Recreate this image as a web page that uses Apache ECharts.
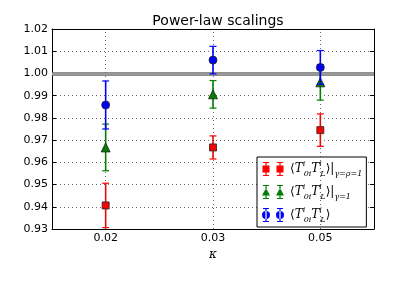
<!DOCTYPE html>
<html><head><meta charset="utf-8">
<script src="https://cdn.jsdelivr.net/npm/echarts@6/dist/echarts.min.js"></script>
<style>html,body{margin:0;padding:0;background:#fff}#c{width:415px;height:287px}</style>
</head><body><div id="c"></div>
<script>
const categories = ['0.02', '0.03', '0.05'];
const seriesNames = ['gammaRho', 'gamma', 'full'];
const redValues = [0.9406, 0.9667, 0.9745];
const redErrors = [0.0100, 0.0052, 0.0073];
const greenValues = [0.9667, 0.9906, 0.9960];
const greenErrors = [0.0105, 0.0062, 0.0080];
const blueValues = [0.9858, 1.0060, 1.0027];
const blueErrors = [0.0108, 0.0062, 0.0076];
const yMin = 0.93, yMax = 1.02, yStep = 0.01;
const refLine = 1.00;

const colors = ['#ff0000', '#007f00', '#0000ff'];
const symbols = ['rect', 'triangle', 'circle'];
const symbolSizes = [7, 9, 8];
const allValues = [redValues, greenValues, blueValues];
const allErrors = [redErrors, greenErrors, blueErrors];

const labelFor = {
  gammaRho: '{b|⟨}{it|T}{sup|i}{sub|0i}{it|T}{sup|i}{sub|L}{b|⟩|}{sub2|γ=ρ=1}',
  gamma: '{b|⟨}{it|T}{sup|i}{sub|0i}{it|T}{sup|i}{sub|L}{b|⟩|}{sub2|γ=1}',
  full: '{b|⟨}{it|T}{sup|i}{sub|0i}{it|T}{sup|i}{sub|L}{b|⟩}'
};

function glyphPath(kind) {
  // 24 x 14 box, two glyphs at x=5 and x=19
  let p = '';
  [5, 19].forEach(c => {
    p += `M${c-0.6} 0.5 L${c+0.6} 0.5 L${c+0.6} 13.5 L${c-0.6} 13.5 Z `;
    p += `M${c-3} 0 L${c+3} 0 L${c+3} 1 L${c-3} 1 Z `;
    p += `M${c-3} 13 L${c+3} 13 L${c+3} 14 L${c-3} 14 Z `;
    if (kind === 'rect') p += `M${c-3.5} 3.5 L${c+3.5} 3.5 L${c+3.5} 10.5 L${c-3.5} 10.5 Z `;
    else if (kind === 'triangle') p += `M${c} 3 L${c+4} 10.5 L${c-4} 10.5 Z `;
    else p += `M${c-4} 7 A4 4 0 1 0 ${c+4} 7 A4 4 0 1 0 ${c-4} 7 Z `;
  });
  p += 'M0 0 L0.01 0 Z M24 14 L23.99 14 Z';
  return 'path://' + p;
}

function errRender(color) {
  return function (params, api) {
    const x = api.value(0);
    const lo = api.coord([x, api.value(1)]);
    const hi = api.coord([x, api.value(2)]);
    const w = 3.5;
    return {
      type: 'group',
      children: [
        { type: 'line', shape: { x1: lo[0], y1: lo[1], x2: hi[0], y2: hi[1] }, style: { stroke: color, lineWidth: 1.6 } },
        { type: 'line', shape: { x1: hi[0] - w, y1: hi[1], x2: hi[0] + w, y2: hi[1] }, style: { stroke: color, lineWidth: 1.2 } },
        { type: 'line', shape: { x1: lo[0] - w, y1: lo[1], x2: lo[0] + w, y2: lo[1] }, style: { stroke: color, lineWidth: 1.2 } }
      ]
    };
  };
}

const series = [];
// reference lines (gridlines + gray band)
series.push({
  type: 'scatter', data: [], silent: true, z: 1,
  markLine: {
    silent: true, symbol: 'none', label: { show: false },
    data: categories.map(c => ({ xAxis: c, lineStyle: { color: '#444', type: [1, 3], width: 0.8 } }))
      .concat([
        { yAxis: refLine, lineStyle: { color: '#6a6a6a', type: 'solid', width: 3.6 } },
        { yAxis: refLine, lineStyle: { color: '#a8a8a8', type: 'solid', width: 1.6 } }
      ])
  }
});
for (let s = 0; s < 3; s++) {
  series.push({
    type: 'custom', name: seriesNames[s] + '_err', clip: true, z: 3 + s * 2,
    renderItem: errRender(colors[s]),
    data: allValues[s].map((v, i) => [i, v - allErrors[s][i], v + allErrors[s][i]])
  });
  series.push({
    type: 'scatter', name: seriesNames[s], z: 4 + s * 2,
    symbol: symbols[s], symbolSize: symbolSizes[s],
    itemStyle: { color: colors[s], borderColor: '#222', borderWidth: 0.8, opacity: 1 },
    data: allValues[s].map((v, i) => [i, v])
  });
}

const baseRich = {
  b: { fontFamily: 'DejaVu Serif', fontSize: 12, color: '#000', lineHeight: 18 },
  it: { fontFamily: 'DejaVu Serif', fontStyle: 'italic', fontSize: 12, color: '#000', lineHeight: 18 },
  sup: { fontFamily: 'DejaVu Serif', fontStyle: 'italic', fontSize: 8, color: '#000', lineHeight: 18, verticalAlign: 'top', width: 1 },
  sub: { fontFamily: 'DejaVu Serif', fontStyle: 'italic', fontSize: 8, color: '#000', lineHeight: 18, verticalAlign: 'bottom' },
  sub2: { fontFamily: 'DejaVu Serif', fontStyle: 'italic', fontSize: 8, color: '#000', lineHeight: 18, verticalAlign: 'bottom' }
};

const option = {
  animation: false,
  backgroundColor: '#fff',
  title: {
    text: 'Power-law scalings', left: 213, textAlign: 'center', top: 9,
    textStyle: { fontFamily: 'DejaVu Sans', fontSize: 14, fontWeight: 'normal', color: '#000' }
  },
  grid: { left: 52, right: 41, top: 29, bottom: 58 },
  legend: {
    orient: 'vertical', left: 257, top: 157, width: 112,
    padding: [3, 4, 3, 4], itemGap: 5, itemWidth: 24, itemHeight: 14,
    backgroundColor: '#fff', borderColor: '#000', borderWidth: 1, borderRadius: 0,
    data: seriesNames.map((n, i) => ({ name: n, icon: glyphPath(symbols[i]), itemStyle: { color: colors[i], borderWidth: 0 } })),
    formatter: n => labelFor[n],
    textStyle: { rich: baseRich }
  },
  xAxis: [{
    type: 'category', data: categories, boundaryGap: true,
    name: 'κ', nameLocation: 'middle', nameGap: 18,
    nameTextStyle: { fontFamily: 'DejaVu Serif', fontStyle: 'italic', fontSize: 12, color: '#000' },
    axisLine: { lineStyle: { color: '#000', width: 1 } },
    axisTick: { inside: true, alignWithLabel: true, length: 4, lineStyle: { color: '#000' } },
    axisLabel: { fontFamily: 'DejaVu Sans', fontSize: 11, color: '#000', margin: 4 },
    splitLine: { show: false }
  }, {
    type: 'category', data: categories, boundaryGap: true, position: 'top',
    axisLine: { lineStyle: { color: '#000', width: 1 } },
    axisTick: { inside: true, alignWithLabel: true, length: 4, lineStyle: { color: '#000' } },
    axisLabel: { show: false }, splitLine: { show: false }
  }],
  yAxis: [{
    type: 'value', min: yMin, max: yMax, interval: yStep,
    axisLine: { show: true, lineStyle: { color: '#000', width: 1 } },
    axisTick: { show: true, inside: true, length: 4, lineStyle: { color: '#000' } },
    axisLabel: { fontFamily: 'DejaVu Sans', fontSize: 11, color: '#000', margin: 4, formatter: v => v.toFixed(2) },
    splitLine: { show: true, lineStyle: { color: '#444', type: [1, 3], width: 0.8 } }
  }, {
    type: 'value', min: yMin, max: yMax, interval: yStep, position: 'right',
    axisLine: { show: true, lineStyle: { color: '#000', width: 1 } },
    axisTick: { show: true, inside: true, length: 4, lineStyle: { color: '#000' } },
    axisLabel: { show: false }, splitLine: { show: false }
  }],
  series: series
};

const chart = echarts.init(document.getElementById('c'), null, { renderer: 'canvas' });
chart.setOption(option);
</script>
</body></html>
